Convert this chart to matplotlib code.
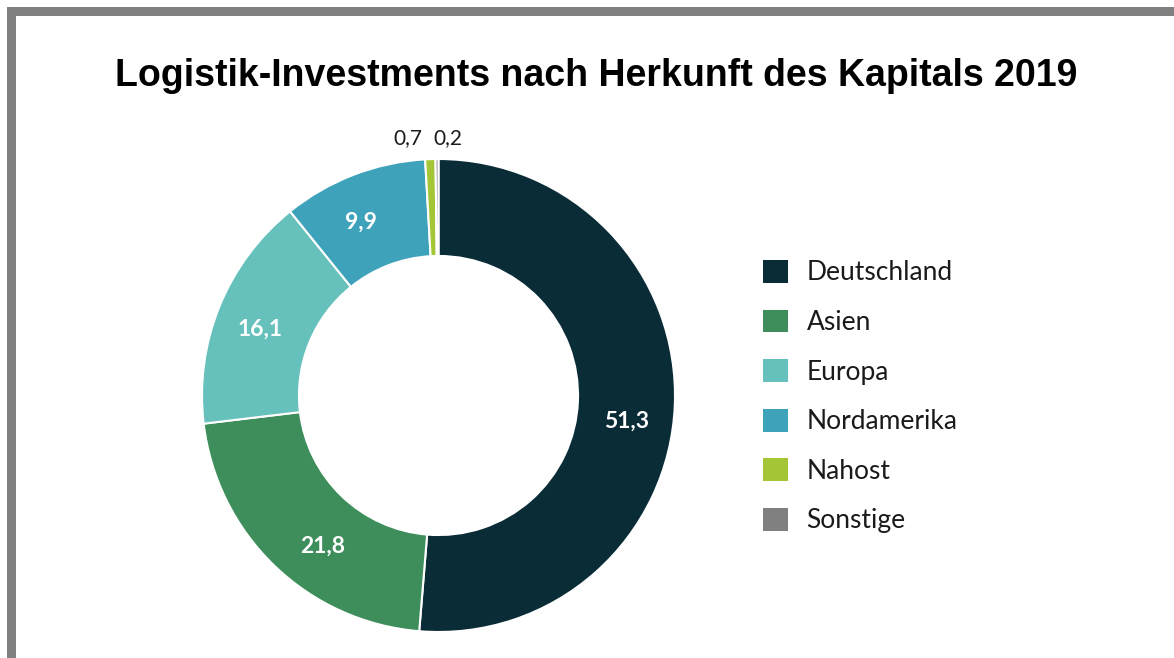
import matplotlib
matplotlib.use("Agg")
import matplotlib.pyplot as plt
import numpy as np
from matplotlib.patches import Rectangle

# ---- data ----
categories = ["Deutschland", "Asien", "Europa", "Nordamerika", "Nahost", "Sonstige"]
values = [51.3, 21.8, 16.1, 9.9, 0.7, 0.2]
value_labels = ["51,3", "21,8", "16,1", "9,9", "0,7", "0,2"]
colors = ["#0a2c37", "#3e8e5c", "#66c1bc", "#3ea2bb", "#a4c536", "#808080"]
title = "Logistik-Investments nach Herkunft des Kapitals 2019"

# layout: angular nudges (degrees) for the inner labels
label_nudge = [-5.4, 6.5, 1.6, 3.0, 0, 0]

W, H = 1174, 658
fig = plt.figure(figsize=(W / 100, H / 100), dpi=100)
ax = fig.add_axes([0, 0, 1, 1])

cx, cy = 438.5, H - 395.5
R = 236.5
ring = 0.41

wedges, _ = ax.pie(values, colors=colors, startangle=90, counterclock=False,
                   center=(cx, cy), radius=R, frame=True,
                   wedgeprops=dict(width=R * ring, edgecolor="white", linewidth=1.5))
ax.set_xlim(0, W)
ax.set_ylim(0, H)
ax.set_aspect("equal")
ax.axis("off")

# grey frame (top and left bands)
ax.add_patch(Rectangle((7, H - 16), W - 7, 9, color="#808080", lw=0, zorder=0))
ax.add_patch(Rectangle((7, 0), 9, H - 7, color="#808080", lw=0, zorder=0))

rmid = R * (1 - ring / 2) + 2
for w, lab, v, nd in zip(wedges, value_labels, values, label_nudge):
    ang = np.deg2rad((w.theta1 + w.theta2) / 2 + nd)
    if v >= 1:
        ax.text(cx + rmid * np.cos(ang), cy + rmid * np.sin(ang), lab,
                color="white", fontsize=16.5, fontweight="bold", family="Lato",
                ha="center", va="center")
    else:
        x = cx + R * np.cos(ang)
        if v > 0.5:
            ax.text(x - 8, cy + R + 11, lab, fontsize=15, family="Lato",
                    color="#1a1a1a", ha="right", va="bottom")
        else:
            ax.text(x - 4, cy + R + 11, lab, fontsize=15, family="Lato",
                    color="#1a1a1a", ha="left", va="bottom")

fig.text(596 / W, 1 - 76 / H, title, fontsize=27, fontweight="bold",
         family="Liberation Sans", ha="center", va="center")

leg = ax.legend(wedges, categories, loc="upper left",
                bbox_to_anchor=(763 / W, 1 - 260 / H), bbox_transform=fig.transFigure,
                frameon=False, prop=dict(family="Lato", size=19),
                handlelength=0.95, handleheight=0.95, handletextpad=0.7,
                labelspacing=0.915, borderpad=0, borderaxespad=0)
for h in leg.legend_handles:
    h.set_edgecolor("none")
for t in leg.get_texts():
    t.set_color("#1a1a1a")

fig.savefig("out.png", dpi=100)
